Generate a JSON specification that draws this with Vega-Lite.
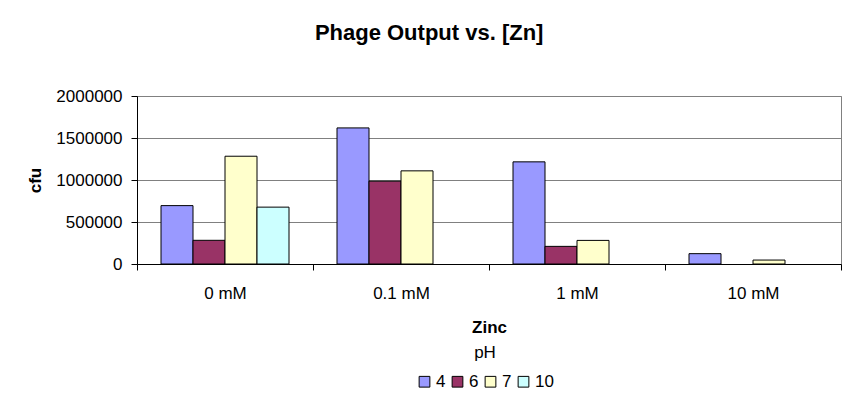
{
  "$schema": "https://vega.github.io/schema/vega-lite/v6.json",
  "autosize": {"type": "none"},
  "width": 704,
  "height": 168,
  "padding": {"left": 137, "top": 96, "right": 14, "bottom": 133},
  "background": "white",
  "title": {
    "text": "Phage Output vs. [Zn]",
    "font": "Liberation Sans",
    "fontSize": 22,
    "fontWeight": "bold",
    "color": "black",
    "anchor": "middle",
    "frame": "bounds",
    "dx": -5,
    "offset": 42
  },
  "data": {
    "values": [
      {"zinc": "0 mM", "pH": "4", "cfu": 695000},
      {"zinc": "0 mM", "pH": "6", "cfu": 282000},
      {"zinc": "0 mM", "pH": "7", "cfu": 1283000},
      {"zinc": "0 mM", "pH": "10", "cfu": 677000},
      {"zinc": "0.1 mM", "pH": "4", "cfu": 1620000},
      {"zinc": "0.1 mM", "pH": "6", "cfu": 986000},
      {"zinc": "0.1 mM", "pH": "7", "cfu": 1109000},
      {"zinc": "1 mM", "pH": "4", "cfu": 1216000},
      {"zinc": "1 mM", "pH": "6", "cfu": 210000},
      {"zinc": "1 mM", "pH": "7", "cfu": 281000},
      {"zinc": "10 mM", "pH": "4", "cfu": 123000},
      {"zinc": "10 mM", "pH": "7", "cfu": 47000}
    ]
  },
  "mark": {"type": "bar", "stroke": "black", "strokeWidth": 1},
  "encoding": {
    "x": {
      "field": "zinc",
      "type": "nominal",
      "title": "Zinc",
      "scale": {"domain": ["0 mM", "0.1 mM", "1 mM", "10 mM"], "paddingInner": 0, "paddingOuter": 0},
      "axis": {
        "labelAngle": 0,
        "tickBand": "extent",
        "tickSize": 6,
        "labelPadding": 15,
        "titlePadding": 18
      }
    },
    "xOffset": {
      "field": "pH",
      "type": "nominal",
      "scale": {"domain": ["4", "6", "7", "10"], "paddingInner": 0, "paddingOuter": 0.75}
    },
    "y": {
      "field": "cfu",
      "type": "quantitative",
      "title": "cfu",
      "scale": {"domain": [0, 2000000]},
      "axis": {
        "values": [0, 500000, 1000000, 1500000, 2000000],
        "format": "d",
        "grid": true,
        "tickSize": 6,
        "labelPadding": 9,
        "titlePadding": 11
      }
    },
    "color": {
      "field": "pH",
      "type": "nominal",
      "title": "pH",
      "scale": {
        "domain": ["4", "6", "7", "10"],
        "range": ["#9999FF", "#993366", "#FFFFCC", "#CCFFFF"]
      },
      "legend": {
        "orient": "none",
        "legendX": 279,
        "legendY": 249,
        "direction": "horizontal",
        "padding": 0,
        "symbolType": "square",
        "symbolSize": 115,
        "symbolStrokeColor": "black",
        "symbolStrokeWidth": 1,
        "symbolOpacity": 1,
        "labelOffset": 3,
        "columnPadding": 3,
        "titleAnchor": "middle",
        "titleOrient": "top",
        "titlePadding": 11
      }
    }
  },
  "config": {
    "font": "Liberation Sans",
    "view": {"stroke": "#808080", "strokeWidth": 1},
    "axis": {
      "domainColor": "black",
      "domainWidth": 1,
      "tickColor": "black",
      "tickWidth": 1,
      "gridColor": "#808080",
      "gridWidth": 1,
      "labelFont": "Liberation Sans",
      "labelFontSize": 17,
      "labelColor": "black",
      "titleFont": "Liberation Sans",
      "titleFontSize": 17,
      "titleFontWeight": "bold",
      "titleColor": "black"
    },
    "legend": {
      "labelFont": "Liberation Sans",
      "labelFontSize": 17,
      "labelColor": "black",
      "titleFont": "Liberation Sans",
      "titleFontSize": 17,
      "titleFontWeight": "normal",
      "titleColor": "black"
    }
  }
}
